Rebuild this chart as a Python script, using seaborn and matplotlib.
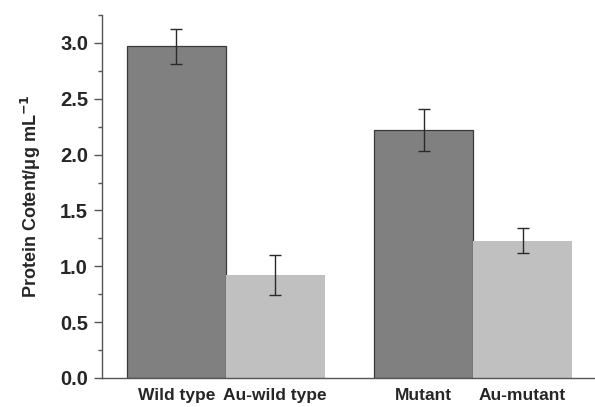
import numpy as np
import pandas as pd
import seaborn as sns
import matplotlib.pyplot as plt
from matplotlib.ticker import MultipleLocator

groups = ["Wild type", "Mutant"]
treatments = ["Control", "Au"]
bar_labels = ["Wild type", "Au-wild type", "Mutant", "Au-mutant"]
control_means = [2.97, 2.22]
control_errs = [0.155, 0.185]
au_means = [0.92, 1.23]
au_errs = [0.178, 0.112]

df = pd.DataFrame({
    "group": groups + groups,
    "treatment": ["Control"] * 2 + ["Au"] * 2,
    "content": control_means + au_means,
})
errs = {"Control": control_errs, "Au": au_errs}

sns.set_style("ticks")
plt.rcParams["font.family"] = ["Liberation Sans", "DejaVu Sans"]

fig = plt.figure(figsize=(5.95, 4.07), dpi=100)
ax = fig.add_axes([0.1714, 0.0713, 0.8286, 0.8917])

sns.barplot(data=df, x="group", y="content", hue="treatment", order=groups,
            hue_order=treatments, palette=["#808080", "#c0c0c0"],
            width=0.8, legend=False, errorbar=None, saturation=1, ax=ax)

# outline only the dark bars, then add the given error bars
for cont, t in zip(ax.containers, treatments):
    xs = []
    for bar in cont:
        xs.append(bar.get_x() + bar.get_width() / 2)
        if t == "Control":
            bar.set_edgecolor("#3a3a3a")
            bar.set_linewidth(0.9)
        else:
            bar.set_linewidth(0)
    hs = [b.get_height() for b in cont]
    ax.errorbar(xs, hs, yerr=errs[t], fmt="none", ecolor="#2a2a2a",
                elinewidth=1.0, capsize=4, capthick=1.0, zorder=5)

ax.set_xlim(-0.501, 1.493)
ax.set_ylim(0, 3.25)
ax.set_xticks([-0.2, 0.2, 0.8, 1.2])
ax.set_xticklabels(bar_labels, fontsize=12.5, fontweight="bold")
ax.tick_params(axis="x", length=0, pad=7)
ax.yaxis.set_minor_locator(MultipleLocator(0.25))
ax.set_yticks(np.arange(0, 3.01, 0.5))
ax.set_yticklabels([f"{v:.1f}" for v in np.arange(0, 3.01, 0.5)],
                   fontsize=14.5, fontweight="bold")
ax.tick_params(axis="y", which="major", length=6, width=1, color="#555555", pad=4)
ax.tick_params(axis="y", which="minor", length=3, width=1, color="#555555")
ax.set_xlabel("")
ax.set_ylabel("Protein Cotent/μg mL$^{\\mathbf{-1}}$", fontsize=13,
              fontweight="bold", labelpad=12)
sns.despine(ax=ax, right=True, top=True)
for s in ["left", "bottom"]:
    ax.spines[s].set_color("#555555")
    ax.spines[s].set_linewidth(1)

fig.savefig("out.png", dpi=100)
